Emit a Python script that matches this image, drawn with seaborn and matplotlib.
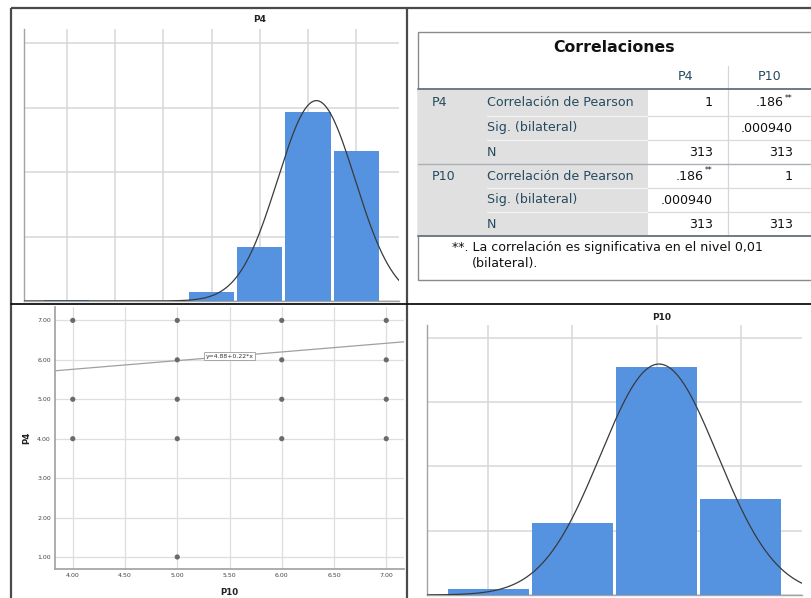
import numpy as np
import matplotlib
matplotlib.use("Agg")
import matplotlib.pyplot as plt
from matplotlib.patches import Rectangle
import seaborn as sns

# ---- data -------------------------------------------------------------
p4_values = [1, 2, 3, 4, 5, 6, 7]
p4_counts = [1, 0, 0, 7, 42, 147, 116]
p10_values = [4, 5, 6, 7]
p10_counts = [5, 56, 177, 75]

scatter_p10 = [4, 4, 4, 5, 5, 5, 5, 5, 6, 6, 6, 6, 7, 7, 7, 7]
scatter_p4 = [7, 5, 4, 7, 6, 5, 4, 1, 7, 6, 5, 4, 7, 6, 5, 4]

fit_intercept = 4.88
fit_slope = 0.22
fit_label = "y=4.88+0.22*x"

scatter_xticks = [4.0, 4.5, 5.0, 5.5, 6.0, 6.5, 7.0]
scatter_yticks = [1.0, 2.0, 3.0, 4.0, 5.0, 6.0, 7.0]

table_title = "Correlaciones"
table_cols = ["P4", "P10"]
table_groups = ["P4", "P10"]
table_stats = ["Correlación de Pearson", "Sig. (bilateral)", "N"]
table_cells = [
    [("1", ""), (".186", "**")],
    [("", ""), (".000940", "")],
    [("313", ""), ("313", "")],
    [(".186", "**"), ("1", "")],
    [(".000940", ""), ("", "")],
    [("313", ""), ("313", "")],
]
footnote = ["**. La correlación es significativa en el nivel 0,01", "(bilateral)."]

# ---- figure -----------------------------------------------------------
sns.set_theme(style="white")
plt.rcParams["font.family"] = ["DejaVu Sans"]

W, H = 811, 598
fig = plt.figure(figsize=(W / 100, H / 100), dpi=100)
fig.patch.set_facecolor("white")

BAR = "#5593e1"
GRID = "#d7d7d7"
SPINE = "#a3a3a3"
FS = 9.1


def px_axes(left, top, right, bottom, **kw):
    return fig.add_axes([left / W, 1 - bottom / H, (right - left) / W, (bottom - top) / H], **kw)


def normal_curve(values, counts, x):
    v = np.repeat(values, counts)
    m, s = v.mean(), v.std(ddof=1)
    return len(v) * np.exp(-0.5 * ((x - m) / s) ** 2) / (s * np.sqrt(2 * np.pi))


def histogram(ax, values, counts, xlim, ylim, width_px):
    # small white gap of ~3 px between neighbouring bars
    shrink = 1 - 3.0 / (width_px / (xlim[1] - xlim[0]))
    sns.histplot(x=values, weights=counts, discrete=True, shrink=shrink, ax=ax,
                 color=BAR, alpha=1, linewidth=0, zorder=3)
    for p in list(ax.patches):
        if p.get_height() == 0:
            p.remove()
    xs = np.linspace(xlim[0], xlim[1], 400)
    ax.plot(xs, normal_curve(values, counts, xs), color="#3a3a3a", lw=0.9, zorder=4)
    ax.set_xlim(*xlim)
    ax.set_ylim(*ylim)
    lo = int(np.ceil(xlim[0]))
    hi = int(np.floor(xlim[1]))
    ax.set_xticks(range(lo, hi + 1))
    ax.set_yticks(range(0, 201, 50))
    ax.tick_params(length=0, labelbottom=False, labelleft=False)
    ax.grid(True, color=GRID, lw=1.1)
    ax.set_axisbelow(True)
    ax.set_xlabel("")
    ax.set_ylabel("")
    for sp in ["top", "right"]:
        ax.spines[sp].set_visible(False)
    for sp in ["left", "bottom"]:
        ax.spines[sp].set_color(SPINE)
        ax.spines[sp].set_linewidth(1.0)


# P4 histogram (top left)
ax1 = px_axes(24, 29, 399, 301)
histogram(ax1, p4_values, p4_counts, (0.11, 7.89), (0, 211), 375)

# P10 histogram (bottom right)
ax4 = px_axes(427, 325, 802, 595)
histogram(ax4, p10_values, p10_counts, (3.274, 7.726), (0, 210), 375)

# Scatter P10 vs P4 with fit line (bottom left)
ax3 = px_axes(55, 307, 404, 569)
ax3.set_xlim(3.83, 7.17)
ax3.set_ylim(0.695, 7.34)
ax3.axline((0, fit_intercept), slope=fit_slope, color="#a0a0a0", lw=0.9, zorder=2)
sns.scatterplot(x=scatter_p10, y=scatter_p4, ax=ax3, color="#6a6a6a", s=14,
                edgecolor="none", zorder=3)
lx = 5.5
ax3.text(lx, fit_intercept + fit_slope * lx, fit_label, ha="center", va="center",
         fontsize=4.4, color="#333333", zorder=4,
         bbox=dict(boxstyle="square,pad=0.25", fc="white", ec="#9a9a9a", lw=0.6))
ax3.set_xticks(scatter_xticks)
ax3.set_yticks(scatter_yticks)
ax3.set_xticklabels([f"{t:.2f}" for t in scatter_xticks])
ax3.set_yticklabels([f"{t:.2f}" for t in scatter_yticks])
ax3.tick_params(length=0, labelsize=4.5, colors="#444444", pad=3)
ax3.grid(True, color="#dedede", lw=0.9)
ax3.set_axisbelow(True)
for sp in ["top", "right"]:
    ax3.spines[sp].set_visible(False)
for sp in ["left", "bottom"]:
    ax3.spines[sp].set_color(SPINE)
ax3.set_xlabel("P10", fontsize=6.2, fontweight="bold", color="#222222", labelpad=7)
ax3.set_ylabel("P4", fontsize=6.2, fontweight="bold", color="#222222", labelpad=4)

# ---- overlay in pixel coordinates: titles, table and panel frame --------
ov = fig.add_axes([0, 0, 1, 1], zorder=10)
ov.set_xlim(0, W)
ov.set_ylim(H, 0)
ov.axis("off")
ov.patch.set_alpha(0)

ov.text(260, 20, "P4", ha="center", va="center", fontsize=6.5, fontweight="bold", color="#222222")
ov.text(662, 317, "P10", ha="center", va="center", fontsize=6.5, fontweight="bold", color="#222222")

# correlation table
TL, TR = 418, 815
ov.add_patch(Rectangle((TL, 32), TR - TL, 248, fc="white", ec="#8a8a8a", lw=1.0, zorder=1))
ov.add_patch(Rectangle((TL, 89), 648 - TL, 147, fc="#e0e0e0", ec="none", zorder=2))
ov.text(614, 48, table_title, ha="center", va="center", fontsize=11.3, fontweight="bold",
        color="#111111", zorder=5)

col_right = [713, 793]
hdr_color = "#264a60"
for c, name in enumerate(table_cols):
    ov.text((686, 770)[c], 76, name, ha="center", va="center", fontsize=FS,
            color=hdr_color, zorder=5)
ov.plot([728, 728], [66, 236], color="#d6d6d6", lw=0.9, zorder=3)

row_y = [103, 128, 152, 176, 200, 224]
ov.plot([TL, 811], [89, 89], color="#6e7a86", lw=1.4, zorder=4)
ov.plot([TL, 811], [164, 164], color="#a9b0b7", lw=1.0, zorder=4)
ov.plot([TL, 811], [236, 236], color="#6e7a86", lw=1.4, zorder=4)
for yy in [115.5, 140, 188, 212]:
    ov.plot([487, 648], [yy, yy], color="#f4f4f4", lw=0.9, zorder=3)
    ov.plot([648, 811], [yy, yy], color="#d9d9d9", lw=0.9, zorder=3)

for g, grp in enumerate(table_groups):
    ov.text(432, row_y[3 * g], grp, ha="left", va="center", fontsize=FS,
            color=hdr_color, zorder=5)
    for s, stat in enumerate(table_stats):
        ov.text(487, row_y[3 * g + s], stat, ha="left", va="center", fontsize=FS,
                color=hdr_color, zorder=5)

for r, row in enumerate(table_cells):
    for c, (val, mark) in enumerate(row):
        if not val:
            continue
        xr = col_right[c] - (9 if mark else 0)
        ov.text(xr, row_y[r], val, ha="right", va="center", fontsize=FS,
                color="#111111", zorder=5)
        if mark:
            ov.text(xr + 0.5, row_y[r] - 5, mark, ha="left", va="center", fontsize=5.5,
                    color="#111111", zorder=5)

ov.text(452, 248, footnote[0], ha="left", va="center", fontsize=FS, color="#111111", zorder=5)
ov.text(472, 264, footnote[1], ha="left", va="center", fontsize=FS, color="#111111", zorder=5)

# panel frame
frame = dict(color="#4a4a4a", lw=1.6, zorder=6, solid_capstyle="butt")
ov.plot([11, 811], [8, 8], **frame)
ov.plot([11, 11], [8, 598], **frame)
ov.plot([407, 407], [8, 598], **frame)
ov.plot([11, 811], [304, 304], color="#111111", lw=1.3, zorder=6)

fig.savefig("out.png", dpi=100, facecolor="white")
